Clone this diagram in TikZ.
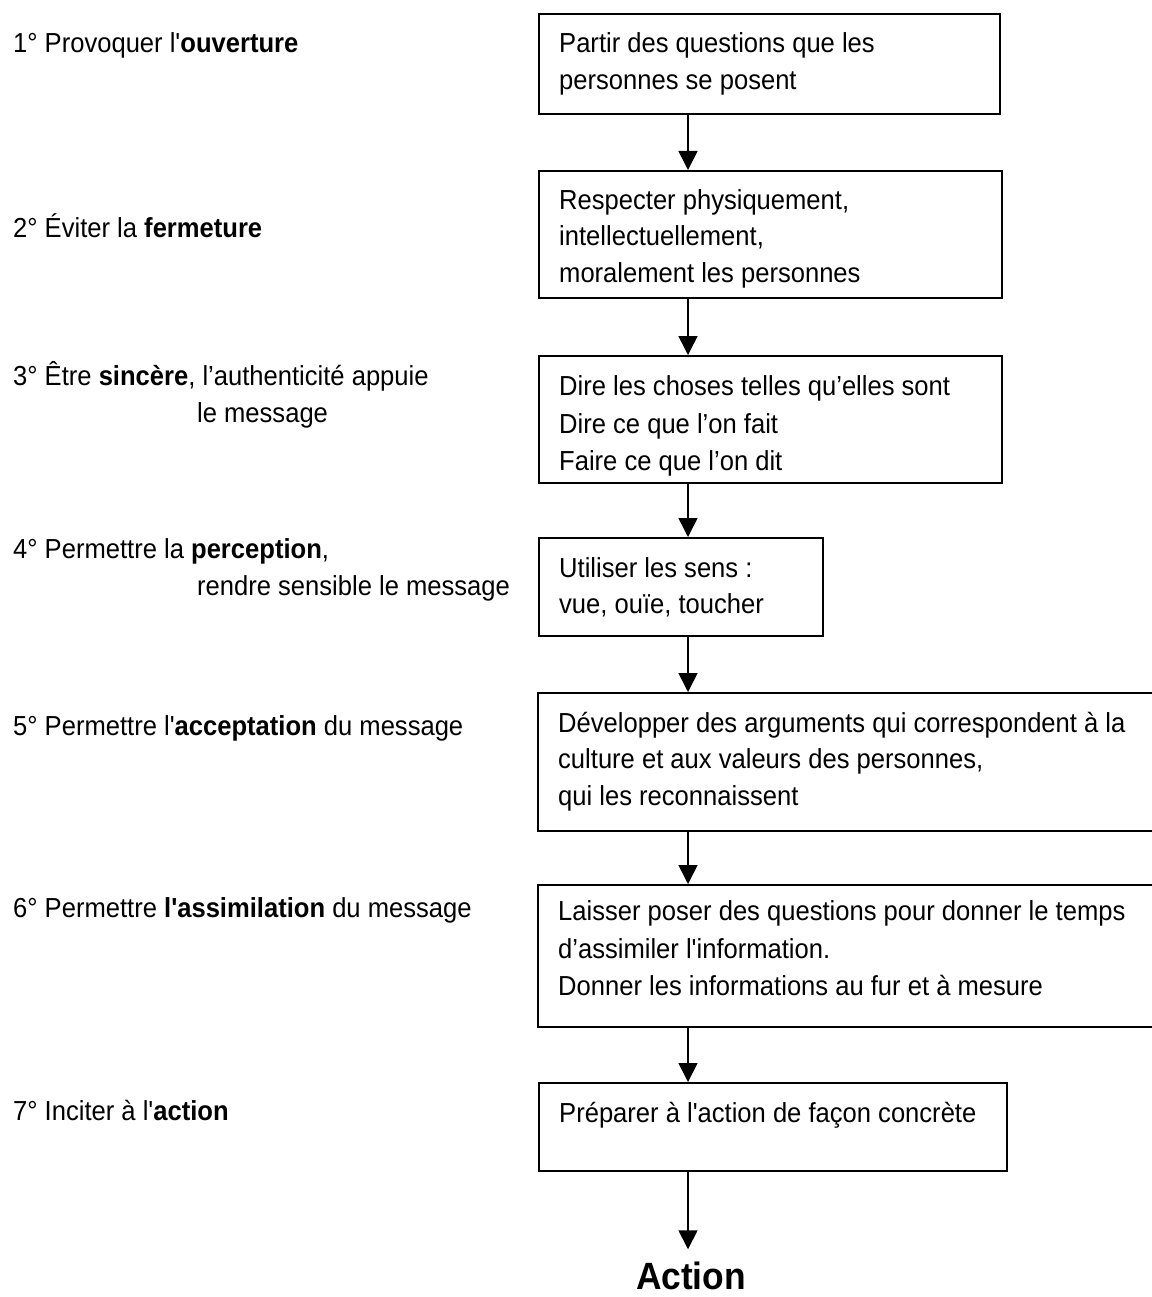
\documentclass[tikz,border=0pt]{standalone}
\usepackage{fontspec}
\setmainfont{Liberation Sans}[FakeStretch=0.93,Ligatures=TeXOff]
\usetikzlibrary{arrows.meta}
\begin{document}
\begin{tikzpicture}[x=1pt,y=-1pt,
  boxst/.style={draw, line width=1.6pt, inner sep=0pt, anchor=north west},
  txt/.style={anchor=base west, inner sep=0pt, font=\fontsize{27.5}{37}\selectfont},
  arr/.style={line width=1.6pt, -{Triangle[width=19pt,length=19pt]}}]
\useasboundingbox (0,0) rectangle (1151,1297);

% column of the connecting arrows
\coordinate (ax) at (688,0);

% boxes
\node[boxst, minimum width=461pt, minimum height=100pt] (b1) at (538,13) {};
\node[boxst, minimum width=463pt, minimum height=127pt] (b2) at (538,170) {};
\node[boxst, minimum width=463pt, minimum height=127pt] (b3) at (538,355) {};
\node[boxst, minimum width=284pt, minimum height=98pt]  (b4) at (538,537) {};
\node[boxst, minimum width=630pt, minimum height=138pt] (b5) at (537,692) {};
\node[boxst, minimum width=630pt, minimum height=142pt] (b6) at (537,884) {};
\node[boxst, minimum width=468pt, minimum height=88pt]  (b7) at (538,1082) {};

% box texts
\node[txt] (t1a) at (559,53) {Partir des questions que les};
\node[txt] (t1b) at (559,90) {personnes se posent};
\node[txt] (t2a) at (559,210) {Respecter physiquement,};
\node[txt] (t2b) at (559,246) {intellectuellement,};
\node[txt] (t2c) at (559,282) {moralement les personnes};
\node[txt] (t3a) at (559,395) {Dire les choses telles qu’elles sont};
\node[txt] (t3b) at (559,433) {Dire ce que l’on fait};
\node[txt] (t3c) at (559,470) {Faire ce que l’on dit};
\node[txt] (t4a) at (559,577) {Utiliser les sens :};
\node[txt] (t4b) at (559,613) {vue, ouïe, toucher};
\node[txt] (t5a) at (558,732) {Développer des arguments qui correspondent à la};
\node[txt] (t5b) at (558,768) {culture et aux valeurs des personnes,};
\node[txt] (t5c) at (558,805) {qui les reconnaissent};
\node[txt] (t6a) at (558,920) {Laisser poser des questions pour donner le temps};
\node[txt] (t6b) at (558,958) {d’assimiler l'information.};
\node[txt] (t6c) at (558,995) {Donner les informations au fur et à mesure};
\node[txt] (t7a) at (559,1122) {Préparer à l'action de façon concrète};

% step labels
\node[txt] (l1) at (13,53) {1° Provoquer l'\textbf{ouverture}};
\node[txt] (l2) at (13,237) {2° Éviter la \textbf{fermeture}};
\node[txt] (l3) at (13,385) {3° Être \textbf{sincère}, l’authenticité appuie};
\node[txt] (l3b) at (197,422) {le message};
\node[txt] (l4) at (13,558) {4° Permettre la \textbf{perception},};
\node[txt] (l4b) at (197,595) {rendre sensible le message};
\node[txt] (l5) at (13,735) {5° Permettre l'\textbf{acceptation} du message};
\node[txt] (l6) at (13,917) {6° Permettre \textbf{l'assimilation} du message};
\node[txt] (l7) at (13,1120) {7° Inciter à l'\textbf{action}};

% final outcome
\node[anchor=base, inner sep=0pt, font=\bfseries\fontsize{38}{46}\selectfont] (act) at (691,1289) {Action};

% arrows
\draw[arr] (b1.south -| ax) -- (b2.north -| ax);
\draw[arr] (b2.south -| ax) -- (b3.north -| ax);
\draw[arr] (b3.south -| ax) -- (b4.north -| ax);
\draw[arr] (b4.south -| ax) -- (b5.north -| ax);
\draw[arr] (b5.south -| ax) -- (b6.north -| ax);
\draw[arr] (b6.south -| ax) -- (b7.north -| ax);
\draw[arr, shorten >=12pt] (b7.south -| ax) -- (act.north -| ax);
\end{tikzpicture}
\end{document}
